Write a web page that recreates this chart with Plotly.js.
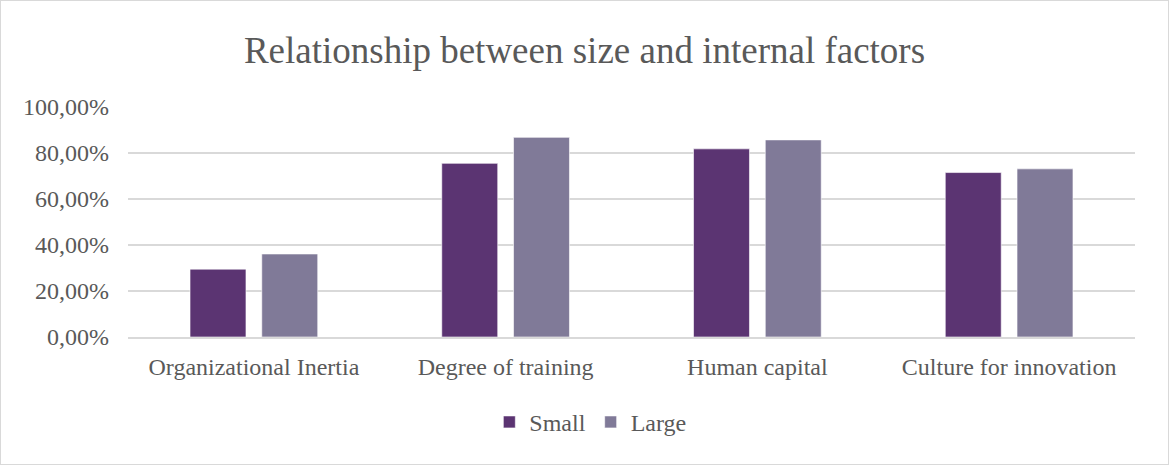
<!DOCTYPE html>
<html><head><meta charset="utf-8">
<script src="https://cdn.plot.ly/plotly-3.0.1.min.js"></script>
<style>html,body{margin:0;padding:0;background:#fff}#c{width:1167px;height:463px;border:1px solid #d9d9d9}</style>
</head><body><div id="c"></div>
<script>
const categories = ["Organizational Inertia", "Degree of training", "Human capital", "Culture for innovation"];
const smallValues = [0.295, 0.755, 0.818, 0.715];
const largeValues = [0.361, 0.868, 0.857, 0.731];
const yTicks = [0, 0.2, 0.4, 0.6, 0.8, 1.0];
const font = "Liberation Serif";
const grey = "#595959";
const traces = [
  {type:"bar", name:"Small", x:categories, y:smallValues, marker:{color:"#5B3472", line:{color:"#ffffff", width:0.6}}},
  {type:"bar", name:"Large", x:categories, y:largeValues, marker:{color:"#807A98", line:{color:"#ffffff", width:0.6}}}
];
const layout = {
  width:1167, height:463,
  margin:{l:127, r:33, t:106.3, b:127.3},
  paper_bgcolor:"#fff", plot_bgcolor:"#fff",
  separators:",.",
  title:{text:"Relationship between size and internal factors", font:{family:font, size:37, color:grey}, xref:"container", x:0.5, xanchor:"center", yref:"container", y:0.893, yanchor:"middle"},
  barmode:"group", bargap:0.43, bargroupgap:0.22,
  font:{family:font, color:grey, size:24},
  xaxis:{showgrid:false, showline:true, linecolor:"#d9d9d9", linewidth:1.5, tickfont:{family:font, size:24, color:grey}, ticklabelstandoff:8, fixedrange:true},
  yaxis:{range:[0,1], tickvals:yTicks, tickformat:".2%", showgrid:true, gridcolor:"#d9d9d9", gridwidth:1.3, zeroline:false, showline:false, tickfont:{family:font, size:24, color:grey}, ticklabelstandoff:18, fixedrange:true},
  showlegend:true,
  legend:{orientation:"h", xref:"container", x:0.505, xanchor:"center", yref:"container", y:0.09, yanchor:"middle", font:{family:font, size:24, color:grey}, itemwidth:30, tracegroupgap:0}
};
Plotly.newPlot("c", traces, layout, {displayModeBar:false, staticPlot:true});
</script></body></html>
